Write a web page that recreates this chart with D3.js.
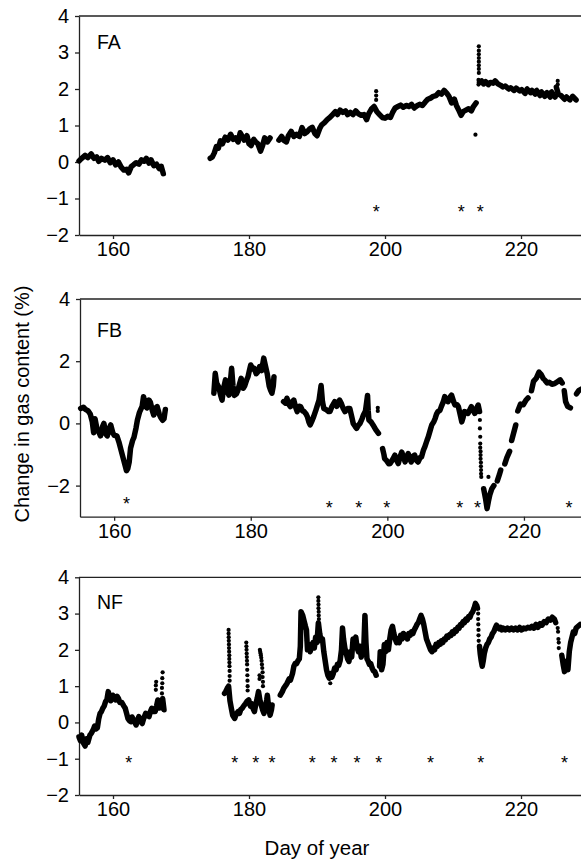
<!DOCTYPE html>
<html>
<head>
<meta charset="utf-8">
<script src="https://cdn.jsdelivr.net/npm/d3@7"></script>
<style>
  body { margin: 0; background: #fff; }
  svg { display: block; font-family: "Liberation Sans", Arial, Helvetica, sans-serif; }
  .axis text { font-size: 20px; fill: #000; }
  .axis line, .axis path { stroke: #222; stroke-width: 1.3; }
</style>
</head>
<body>
<div id="chart"></div>
<script>
// ---- data (day of year, change in gas content %) ----
var xTicks = [160, 180, 200, 220];

var faTicks = [-2, -1, 0, 1, 2, 3, 4];
var faSegments = [
  [[155.0,0.03],[155.4,0.10],[155.9,0.18],[156.3,0.12],[156.8,0.22],[157.2,0.10],[157.6,0.14],[157.9,0.02],[158.3,0.10],[158.8,0.05],[159.2,0.12],[159.6,-0.02],[160.0,0.06],[160.4,-0.08],[160.8,0.0],[161.2,-0.14],[161.6,-0.22],[162.0,-0.20],[162.3,-0.30],[162.7,-0.12],[163.0,-0.08],[163.4,-0.02],[163.8,-0.06],[164.2,0.06],[164.6,0.02],[164.9,0.10],[165.3,-0.03],[165.6,0.06],[166.0,-0.10],[166.4,-0.06],[166.8,-0.18],[167.1,-0.12],[167.4,-0.32]],
  [[174.3,0.10],[174.6,0.14],[174.9,0.25],[175.2,0.42],[175.5,0.38],[175.8,0.58],[176.1,0.50],[176.5,0.68],[176.9,0.60],[177.3,0.76],[177.7,0.62],[178.0,0.66],[178.4,0.55],[178.7,0.80],[179.0,0.70],[179.3,0.60],[179.7,0.72],[180.0,0.50],[180.3,0.45],[180.7,0.62],[181.0,0.55],[181.3,0.50],[181.7,0.30],[182.0,0.45],[182.3,0.66],[182.7,0.55],[183.1,0.66]],
  [[184.4,0.60],[184.8,0.70],[185.1,0.60],[185.5,0.55],[185.8,0.72],[186.2,0.84],[186.6,0.70],[187.0,0.76],[187.4,0.70],[187.8,0.94],[188.2,0.78],[188.5,0.82],[188.9,0.90],[189.3,0.95],[189.7,0.78],[190.0,0.72],[190.4,0.92],[190.7,1.02],[191.1,1.08],[191.5,1.16],[191.9,1.22],[192.3,1.30],[192.7,1.38],[193.0,1.30],[193.4,1.42],[193.8,1.36],[194.2,1.40],[194.5,1.30],[194.9,1.36],[195.3,1.30],[195.7,1.40],[196.1,1.32],[196.5,1.28],[196.9,1.30],[197.3,1.16],[197.6,1.32],[198.0,1.45],[198.4,1.52],[198.8,1.38],[199.2,1.30],[199.6,1.22],[200.0,1.20],[200.4,1.25],[200.8,1.22],[201.1,1.35],[201.5,1.48],[201.9,1.52],[202.3,1.56],[202.7,1.50],[203.1,1.55],[203.5,1.52],[203.9,1.58],[204.3,1.48],[204.7,1.54],[205.1,1.58],[205.5,1.55],[205.9,1.64],[206.3,1.72],[206.7,1.75],[207.1,1.80],[207.5,1.82],[207.9,1.90],[208.3,1.86],[208.7,1.96],[209.1,1.88],[209.4,1.80],[209.8,1.62],[210.2,1.72],[210.5,1.55],[210.9,1.40],[211.2,1.28],[211.5,1.38],[211.9,1.42],[212.3,1.46],[212.7,1.40],[213.0,1.52],[213.4,1.62]],
  [[213.9,2.18],[214.2,2.22],[214.5,2.14],[214.8,2.20],[215.2,2.12],[215.5,2.18],[215.9,2.16],[216.2,2.22],[216.6,2.14],[217.0,2.10],[217.3,2.06]],
  [[217.7,2.08],[218.2,2.00]],
  [[218.5,2.03],[219.0,1.96]],
  [[219.3,2.02],[219.8,1.95]],
  [[220.1,1.98],[220.6,1.88]],
  [[220.9,2.00],[221.4,1.90]],
  [[221.6,1.96],[222.1,1.86]],
  [[222.3,1.96],[222.8,1.82]],
  [[223.0,1.92],[223.5,1.80]],
  [[223.8,1.90],[224.3,1.78]],
  [[224.5,1.92],[225.0,1.78]],
  [[225.2,2.05],[225.5,1.85]],
  [[225.9,1.82],[226.4,1.72]],
  [[226.7,1.78],[227.2,1.70]],
  [[227.6,1.80],[228.1,1.70]]
];
var faDots = [[198.7,1.70],[198.7,1.82],[198.7,1.94],[213.3,0.75],
  [213.75,2.12],[213.75,2.25],[213.8,2.44],[213.8,2.55],[213.8,2.65],[213.8,2.75],[213.8,2.85],[213.8,2.95],[213.8,3.05],[213.8,3.17],
  [225.4,2.12],[225.4,2.22]];
var faStars = [198.7, 211.2, 214.0];
var faStarY = [-1.25, -1.25, -1.25];

var fbTicks = [-2, 0, 2, 4];
var fbSegments = [
  [[155.1,0.48],[155.5,0.52],[155.8,0.45],[156.2,0.40],[156.5,0.30],[156.8,0.05],[157.0,-0.30],[157.2,0.15],[157.5,-0.20],[157.8,-0.30],[158.0,-0.40],[158.3,-0.10],[158.5,0.0],[158.8,-0.35],[159.0,-0.40],[159.3,-0.15],[159.5,-0.05],[159.8,-0.30],[160.0,-0.38],[160.4,-0.40],[160.7,-0.60],[161.0,-0.85],[161.3,-1.10],[161.6,-1.35],[161.8,-1.52],[162.0,-1.45],[162.2,-1.25],[162.4,-0.80],[162.7,-0.55],[162.9,-0.45],[163.2,-0.15],[163.4,0.10],[163.7,0.35],[163.9,0.45],[164.1,0.55],[164.3,0.86],[164.6,0.55],[164.8,0.50],[165.1,0.75],[165.3,0.68],[165.6,0.40],[165.8,0.27],[166.1,0.50],[166.3,0.54],[166.6,0.30],[166.8,0.20],[167.1,0.10],[167.3,0.15],[167.5,0.45]],
  [[174.6,0.97],[174.8,1.61],[175.0,1.30],[175.3,1.18],[175.6,0.90],[175.8,0.75],[176.0,1.10],[176.3,1.40],[176.5,1.05],[176.8,0.91],[177.0,1.30],[177.2,1.77],[177.4,1.20],[177.6,0.90],[177.9,0.95],[178.1,1.05],[178.4,1.30],[178.6,1.45],[178.9,1.13],[179.1,1.20],[179.4,1.40],[179.6,1.50],[179.8,1.70],[180.0,1.88],[180.3,1.75],[180.5,1.77],[180.8,1.60],[181.0,1.65],[181.3,1.83],[181.6,1.70],[181.9,2.10],[182.1,1.90],[182.4,1.61],[182.7,1.20],[182.9,1.07],[183.1,0.97],[183.3,1.20],[183.4,1.50]],
  [[184.8,0.70],[185.1,0.65],[185.3,0.81],[185.6,0.60],[185.8,0.54],[186.1,0.70],[186.3,0.75],[186.6,0.50],[186.8,0.38],[187.1,0.55],[187.3,0.54],[187.6,0.40],[187.8,0.38],[188.1,0.30],[188.3,0.21],[188.5,0.05],[188.7,-0.05],[189.0,0.10],[189.2,0.21],[189.5,0.40],[189.7,0.54],[190.0,0.75],[190.3,1.22],[190.5,0.70],[190.7,0.48],[191.0,0.45],[191.4,0.38],[191.6,0.38],[191.9,0.55],[192.3,0.70],[192.6,0.55],[193.0,0.75],[193.3,0.62],[193.5,0.50],[193.8,0.38],[194.2,0.48],[194.5,0.48],[194.8,0.20],[195.0,0.0],[195.3,-0.10],[195.5,-0.16],[195.8,-0.05],[196.0,0.0],[196.3,0.15],[196.5,0.27],[196.8,0.40],[197.1,0.90],[197.2,0.40],[197.3,0.11],[197.6,0.05],[197.9,-0.05],[198.3,-0.20],[198.7,-0.32]],
  [[199.3,-0.81],[199.5,-1.0],[199.6,-1.13],[199.9,-1.20],[200.2,-1.30],[200.4,-1.29],[200.8,-1.15],[201.1,-1.02],[201.4,-1.20],[201.6,-1.29],[201.9,-1.05],[202.1,-0.92],[202.4,-1.10],[202.6,-1.24],[202.9,-1.05],[203.05,-0.97],[203.3,-1.15],[203.5,-1.24],[203.8,-1.05],[204.0,-1.02],[204.3,-1.20],[204.5,-1.24],[204.8,-1.10],[205.0,-1.08],[205.3,-0.85],[205.5,-0.75],[205.8,-0.55],[206.0,-0.43],[206.3,-0.20],[206.5,-0.05],[206.8,0.05],[207.0,0.16],[207.2,0.30],[207.4,0.38],[207.7,0.42],[207.9,0.54],[208.2,0.70],[208.4,0.86],[208.7,0.72],[208.9,0.70],[209.2,0.85],[209.4,0.91],[209.7,0.70],[209.9,0.59],[210.2,0.60],[210.4,0.54],[210.7,0.25],[210.9,0.05],[211.1,0.20],[211.3,0.38],[211.6,0.35],[211.8,0.32],[212.1,0.45],[212.3,0.54],[212.6,0.40],[212.8,0.32],[213.1,0.50],[213.3,0.59],[213.5,0.38]],
  [[214.1,-2.10],[214.4,-2.45],[214.6,-2.74],[214.8,-2.50],[215.0,-2.30],[215.3,-2.10],[215.6,-2.00]],
  [[216.1,-1.85],[216.4,-1.65],[216.6,-1.50]],
  [[217.2,-1.30],[217.5,-1.10],[217.9,-0.90]],
  [[218.2,-0.55],[218.5,-0.30],[218.8,-0.05]],
  [[219.1,0.40],[219.5,0.62],[219.9,0.60],[220.3,0.75],[220.6,0.82]],
  [[221.1,1.05],[221.4,1.35],[221.8,1.45],[222.2,1.65],[222.5,1.58],[222.8,1.45]],
  [[223.1,1.38],[223.4,1.30],[223.7,1.32],[224.1,1.26],[224.5,1.28],[224.9,1.34],[225.3,1.40],[225.6,1.30]],
  [[225.9,1.05],[226.1,0.70],[226.4,0.55],[226.8,0.50]],
  [[227.7,0.95],[228.0,1.05],[228.4,1.10]]
];
var fbDots = [[198.6,0.40],[198.6,0.50],
  [213.55,0.11],[213.55,-0.16],[213.6,-0.43],[213.6,-0.65],[213.6,-0.78],[213.65,-0.90],[213.65,-1.02],[213.65,-1.14],[213.7,-1.26],[213.7,-1.38],[213.72,-1.50],[213.72,-1.62],[213.75,-1.72],
  [214.8,-1.72]];
var fbStars = [161.8, 191.5, 195.8, 199.9, 210.6, 213.2, 226.6];
var fbStarY = [-2.47, -2.58, -2.58, -2.58, -2.58, -2.58, -2.58];

var nfTicks = [-2, -1, 0, 1, 2, 3, 4];
var nfSegments = [
  [[155.0,-0.40],[155.2,-0.50],[155.4,-0.35],[155.6,-0.55],[155.9,-0.65],[156.1,-0.45],[156.3,-0.55],[156.6,-0.35],[156.8,-0.30],[157.1,-0.20],[157.3,-0.10],[157.5,-0.18],[157.7,-0.15],[157.9,0.10],[158.1,0.25],[158.3,0.30],[158.5,0.39],[158.7,0.45],[158.9,0.57],[159.1,0.62],[159.3,0.85],[159.5,0.70],[159.7,0.60],[159.96,0.75],[160.2,0.68],[160.4,0.62],[160.6,0.72],[160.8,0.66],[161.0,0.55],[161.3,0.55],[161.6,0.45],[161.8,0.39],[162.0,0.25],[162.2,0.11],[162.4,0.05],[162.6,0.02],[162.8,0.15],[163.0,0.08],[163.2,0.0],[163.4,-0.07],[163.6,0.05],[163.8,0.16],[164.0,0.05],[164.3,-0.03],[164.5,0.10],[164.8,0.25],[165.0,0.20],[165.3,0.16],[165.5,0.30],[165.7,0.39],[165.9,0.30],[166.2,0.30],[166.4,0.45],[166.6,0.62],[166.8,0.40],[166.97,0.52],[167.2,0.40],[167.3,0.66],[167.5,0.35]],
  [[176.4,0.80],[176.6,0.86],[176.8,0.94],[177.0,1.00],[177.2,0.60],[177.4,0.39],[177.6,0.20],[177.9,0.11],[178.1,0.22],[178.4,0.30],[178.6,0.25],[178.8,0.36],[179.0,0.39],[179.2,0.45],[179.5,0.52],[179.7,0.58],[179.96,0.62],[180.2,0.45],[180.4,0.52],[180.6,0.38],[180.8,0.30],[181.0,0.50],[181.2,0.66],[181.4,0.85],[181.6,0.62],[181.8,0.48],[182.0,0.35],[182.2,0.25],[182.4,0.40],[182.6,0.62],[182.7,0.75],[182.9,0.39],[183.1,0.20],[183.3,0.35],[183.4,0.48]],
  [[184.6,0.75],[184.9,0.85],[185.1,0.94],[185.4,1.02],[185.6,1.08],[185.9,1.20],[186.1,1.17],[186.4,1.35],[186.6,1.55],[186.8,1.63],[187.0,1.62],[187.2,1.70],[187.4,1.75],[187.55,2.10],[187.65,3.05],[187.9,2.95],[188.1,2.80],[188.3,2.65],[188.45,2.55],[188.6,2.00],[188.8,2.15],[189.0,1.95],[189.2,2.10],[189.4,2.20],[189.6,2.05],[189.8,2.35],[190.0,2.20],[190.2,2.75],[190.4,2.45],[190.6,2.25],[190.8,2.30],[191.0,1.95],[191.2,1.70],[191.4,1.45],[191.6,1.30],[191.8,1.22],[192.0,1.35],[192.2,1.25],[192.4,1.35],[192.6,1.50],[192.8,1.45],[193.0,1.60],[193.2,1.58],[193.4,1.70],[193.6,2.00],[193.75,2.60],[193.9,2.30],[194.1,2.05],[194.3,1.90],[194.5,1.75],[194.7,1.68],[194.9,1.95],[195.1,1.80],[195.3,2.30],[195.5,2.20],[195.7,2.35],[195.9,2.05],[196.1,1.95],[196.3,2.10],[196.5,1.80],[196.7,1.95],[196.9,2.15],[197.05,2.95],[197.2,2.20],[197.35,1.75],[197.5,1.70],[197.7,1.60],[197.9,1.62],[198.1,1.50],[198.3,1.42],[198.5,1.40],[198.7,1.30]],
  [[199.2,1.55],[199.3,1.95],[199.4,1.65],[199.5,1.45],[199.7,1.60],[199.9,2.15],[200.1,1.95],[200.3,2.20],[200.5,2.00],[200.7,2.30],[200.9,2.55],[201.1,2.65],[201.3,2.45],[201.5,2.30],[201.7,2.20],[201.9,2.30],[202.1,2.20],[202.3,2.40],[202.5,2.30],[202.7,2.45],[202.9,2.35],[203.1,2.40],[203.3,2.30],[203.5,2.45],[203.7,2.40],[203.9,2.50],[204.1,2.45],[204.3,2.55],[204.5,2.62],[204.7,2.70],[204.9,2.75],[205.1,2.85],[205.3,2.95],[205.5,2.85],[205.7,2.70],[205.9,2.50],[206.1,2.30],[206.3,2.20],[206.5,2.10],[206.7,2.00],[206.9,1.95],[207.1,2.05],[207.3,2.00],[207.5,2.15],[207.7,2.10],[207.9,2.20],[208.1,2.15],[208.3,2.25],[208.5,2.20],[208.7,2.30],[208.9,2.28],[209.1,2.38],[209.3,2.35],[209.5,2.42],[209.7,2.40],[209.9,2.50],[210.1,2.45],[210.3,2.55],[210.5,2.52],[210.7,2.62],[210.9,2.60],[211.1,2.70],[211.3,2.68],[211.5,2.78],[211.7,2.75],[211.9,2.85],[212.1,2.82],[212.3,2.92],[212.5,2.90],[212.7,3.00],[212.9,3.05],[213.1,3.15],[213.3,3.28],[213.5,3.22],[213.6,3.15]],
  [[213.9,2.10],[214.0,1.90],[214.15,1.70],[214.3,1.55],[214.45,1.70],[214.6,1.90],[214.8,2.05],[215.0,2.15],[215.2,2.20],[215.4,2.30],[215.6,2.35],[215.8,2.45],[216.0,2.50],[216.2,2.60],[216.4,2.68],[216.6,2.62],[216.8,2.58],[217.0,2.62],[217.2,2.55],[217.4,2.60],[217.7,2.55],[218.0,2.60],[218.3,2.55],[218.6,2.60],[218.9,2.55],[219.2,2.60],[219.5,2.55],[219.8,2.62],[220.1,2.55],[220.4,2.60],[220.7,2.58],[221.0,2.62],[221.3,2.60],[221.6,2.65],[221.9,2.60],[222.2,2.70],[222.5,2.62],[222.8,2.72],[223.1,2.68],[223.4,2.78],[223.7,2.75],[224.0,2.85],[224.3,2.82],[224.6,2.90],[224.9,2.85],[225.1,2.75]],
  [[226.0,1.85],[226.2,1.60],[226.4,1.40],[226.6,1.55],[226.8,1.70],[226.9,1.45],[227.1,1.95],[227.3,2.20],[227.5,2.35],[227.7,2.50],[227.9,2.45],[228.1,2.60],[228.4,2.65],[228.7,2.70]]
];
var nfDots = [[166.3,0.90],[166.3,1.02],[166.35,1.12],[167.2,0.80],[167.2,0.95],[167.25,1.08],[167.25,1.22],[167.3,1.38],
  [177.0,2.55],[177.0,2.45],[177.02,2.35],[177.03,2.25],[177.05,2.15],[177.06,2.05],[177.08,1.95],[177.1,1.85],[177.1,1.75],[177.12,1.65],[177.13,1.55],[177.15,1.42],[177.15,1.28],[177.15,1.15],
  [179.6,2.20],[179.62,2.10],[179.64,2.00],[179.66,1.90],[179.68,1.80],[179.7,1.70],[179.72,1.60],[179.74,1.45],[179.76,1.30],[179.78,1.15],[179.8,1.00],[179.8,0.88],
  [181.6,2.00],[181.65,1.95],[181.7,1.90],[181.75,1.85],[181.8,1.78],[181.85,1.70],[181.9,1.60],[181.95,1.50],[182.0,1.38],[182.0,1.25],[182.05,1.12],[182.05,1.00],[181.55,1.30],[181.55,1.20],
  [188.5,2.40],[188.5,2.25],[188.55,2.10],
  [190.2,3.45],[190.2,3.35],[190.22,3.25],[190.22,3.15],[190.25,3.05],[190.25,2.95],[190.28,2.85],
  [191.95,1.08],[197.0,2.75],[197.05,2.60],[197.1,2.45],
  [213.7,3.00],[213.7,2.85],[213.72,2.70],[213.75,2.55],[213.75,2.40],[213.78,2.25],
  [225.4,2.60],[225.45,2.50],[225.5,2.30],[225.55,2.20],[225.55,2.05]];
var nfStars = [162.3, 177.9, 181.0, 183.4, 189.3, 192.5, 195.9, 199.1, 206.7, 214.1, 226.4];
var nfStarY = [-1.0, -1.0, -1.0, -1.0, -1.0, -1.0, -1.0, -1.0, -1.0, -1.0, -1.0];

// ---- layout ----
var width = 581, height = 860;
var panels = [
  { label: "FA", segs: faSegments, dots: faDots, stars: faStars, starY: faStarY, yDomain: [-2, 4], yTicks: faTicks, top: 16, bottom: 235, left: 79, perDay: 6.8, labelY: 49 },
  { label: "FB", segs: fbSegments, dots: fbDots, stars: fbStars, starY: fbStarY, yDomain: [-3, 4], yTicks: fbTicks, top: 299, bottom: 516.7, left: 80, perDay: 6.83, labelY: 336.5 },
  { label: "NF", segs: nfSegments, dots: nfDots, stars: nfStars, starY: nfStarY, yDomain: [-2, 4], yTicks: nfTicks, top: 577.3, bottom: 795, left: 79, perDay: 6.8, labelY: 609 }
];

var svg = d3.select("#chart").append("svg")
    .attr("width", width)
    .attr("height", height);

panels.forEach(function(p) {
  var x = d3.scaleLinear().domain([155, 230]).range([p.left, p.left + 75 * p.perDay]);
  var y = d3.scaleLinear().domain(p.yDomain).range([p.bottom, p.top]);
  var g = svg.append("g");

  // frame: top border
  g.append("line")
    .attr("x1", p.left).attr("x2", width)
    .attr("y1", p.top).attr("y2", p.top)
    .attr("stroke", "#222").attr("stroke-width", 1.3);

  g.append("g")
    .attr("class", "axis")
    .attr("transform", "translate(" + p.left + ",0)")
    .call(d3.axisLeft(y).tickValues(p.yTicks).tickSize(4).tickSizeOuter(0).tickPadding(6).tickFormat(d3.format("d")));

  g.append("g")
    .attr("class", "axis")
    .attr("transform", "translate(0," + p.bottom + ")")
    .call(d3.axisBottom(x).tickValues(xTicks).tickSize(4).tickSizeOuter(0).tickPadding(3));

  // measurements
  var line = d3.line()
      .x(function(d) { return x(d[0]); })
      .y(function(d) { return y(d[1]); });
  g.selectAll(".seg").data(p.segs)
    .enter().append("path")
      .attr("class", "seg")
      .attr("d", line)
      .attr("fill", "none")
      .attr("stroke", "#000")
      .attr("stroke-width", 5.5)
      .attr("stroke-linejoin", "round")
      .attr("stroke-linecap", "round");
  g.selectAll(".dot").data(p.dots)
    .enter().append("circle")
      .attr("class", "dot")
      .attr("cx", function(d) { return x(d[0]); })
      .attr("cy", function(d) { return y(d[1]); })
      .attr("r", 2.1)
      .attr("fill", "#000");

  // event markers
  g.selectAll(".star").data(p.stars)
    .enter().append("text")
      .attr("class", "star")
      .attr("x", function(d) { return x(d); })
      .attr("y", function(d, i) { return y(p.starY[i]); })
      .attr("dy", "0.57em")
      .attr("text-anchor", "middle")
      .style("font-size", "18px")
      .text("*");

  g.append("text")
    .attr("x", 97)
    .attr("y", p.labelY)
    .style("font-size", "19.5px")
    .text(p.label);
});

// axis titles
svg.append("text")
  .attr("transform", "translate(29,404) rotate(-90)")
  .attr("text-anchor", "middle")
  .style("font-size", "20px")
  .text("Change in gas content (%)");

svg.append("text")
  .attr("x", 317)
  .attr("y", 855)
  .attr("text-anchor", "middle")
  .style("font-size", "20.5px")
  .text("Day of year");
</script>
</body>
</html>
